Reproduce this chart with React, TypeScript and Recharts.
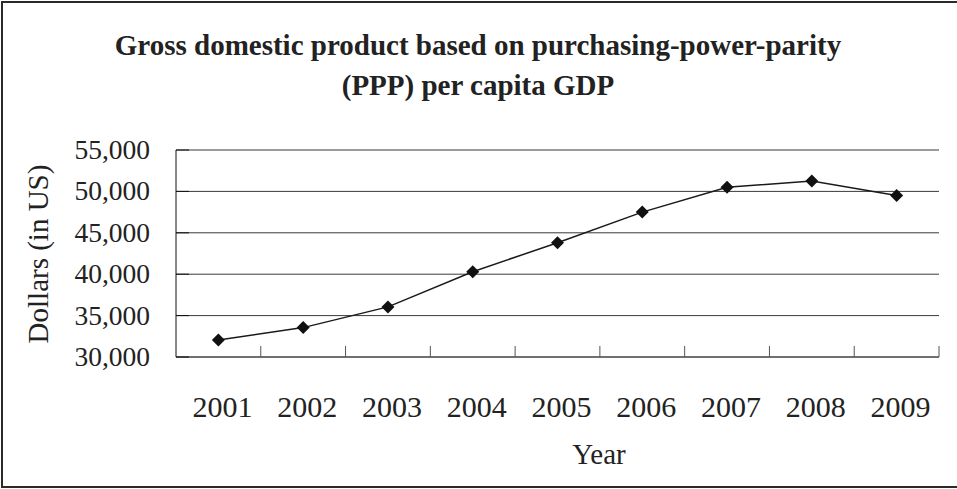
import React from "react";
import { LineChart, Line, XAxis, YAxis, CartesianGrid, ReferenceLine } from "recharts";

const years = ["2001", "2002", "2003", "2004", "2005", "2006", "2007", "2008", "2009"];
const gdpValues = [32050, 33550, 36050, 40300, 43800, 47500, 50500, 51250, 49500];
const yTicks = [30000, 35000, 40000, 45000, 50000, 55000];

const data = years.map((year, i) => ({ year, gdp: gdpValues[i] }));

const W = 957;
const H = 489;
const PLOT_LEFT = 176;
const PLOT_RIGHT = 939;
const PLOT_TOP = 150;
const PLOT_BOTTOM = 357;
const BAND = (PLOT_RIGHT - PLOT_LEFT) / years.length;
const FONT = "'Liberation Serif', 'Times New Roman', serif";
const INK = "#222";

// diamond marker like the old Excel style
const Diamond = (props: any) => {
  const { cx, cy } = props;
  if (cx == null || cy == null) return null;
  const r = 6.5;
  return (
    <polygon
      points={`${cx},${cy - r} ${cx + r},${cy} ${cx},${cy + r} ${cx - r},${cy}`}
      fill="#111"
    />
  );
};

const XTick = (props: any) => {
  const { x, payload } = props;
  // ticks sit on the band boundaries and point up into the plot
  const tx = x + BAND / 2;
  return (
    <g>
      <line x1={tx} x2={tx} y1={PLOT_BOTTOM} y2={PLOT_BOTTOM - 11} stroke="#555" />
      <text x={x + 4} y={PLOT_BOTTOM + 60} textAnchor="middle" fontFamily={FONT} fontSize={30} fill={INK}>
        {payload.value}
      </text>
    </g>
  );
};

const YTick = (props: any) => {
  const { y, payload } = props;
  return (
    <g>
      <line x1={PLOT_LEFT} x2={PLOT_LEFT + 13} y1={y} y2={y} stroke="#111" />
      <text x={150} y={y + 9} textAnchor="end" fontFamily={FONT} fontSize={27.5} fill={INK}>
        {Number(payload.value).toLocaleString("en-US")}
      </text>
    </g>
  );
};

const YLabel = () => (
  <text
    x={38}
    y={254}
    transform="rotate(-90 38 254)"
    textAnchor="middle"
    dominantBaseline="central"
    fontFamily={FONT}
    fontSize={29}
    fill={INK}
  >
    Dollars (in US)
  </text>
);

const App = () => {
  return (
    <div style={{ position: "relative", width: W, height: H, overflow: "hidden", background: "#fff" }}>
      <style>{"body{margin:0}"}</style>
      <LineChart
        width={W}
        height={H}
        data={data}
        margin={{ top: PLOT_TOP, right: W - PLOT_RIGHT, bottom: 0, left: 0 }}
      >
        <CartesianGrid vertical={false} stroke="#3a3a3a" />
        <XAxis
          dataKey="year"
          height={H - PLOT_BOTTOM}
          interval={0}
          padding={{ left: BAND / 2, right: BAND / 2 }}
          axisLine={{ stroke: "#444" }}
          tickLine={false}
          tick={XTick}
        />
        <YAxis
          width={PLOT_LEFT}
          domain={[30000, 55000]}
          ticks={yTicks}
          axisLine={{ stroke: "#111" }}
          tickLine={false}
          tick={YTick}
          label={<YLabel />}
        />
        <YAxis
          yAxisId="right"
          orientation="right"
          width={0}
          domain={[30000, 55000]}
          tick={false}
          tickLine={false}
          axisLine={{ stroke: "#999" }}
        />
        <ReferenceLine y={55000} stroke="#999" />
        <Line
          type="linear"
          dataKey="gdp"
          stroke="#1a1a1a"
          strokeWidth={1.5}
          dot={<Diamond />}
          activeDot={false}
          isAnimationActive={false}
        />
      </LineChart>
      <svg width={W} height={H} style={{ position: "absolute", left: 0, top: 0, pointerEvents: "none" }}>
        <text x={478} y={55} textAnchor="middle" fontFamily={FONT} fontWeight="bold" fontSize={29} fill={INK}>
          Gross domestic product based on purchasing-power-parity
        </text>
        <text x={478} y={95} textAnchor="middle" fontFamily={FONT} fontWeight="bold" fontSize={29} fill={INK}>
          (PPP) per capita GDP
        </text>
        <text x={599} y={464} textAnchor="middle" fontFamily={FONT} fontSize={29} fill={INK}>
          Year
        </text>
      </svg>
      <div
        style={{
          position: "absolute",
          left: 1,
          top: 1,
          width: W + 10,
          height: 487,
          boxSizing: "border-box",
          border: "2px solid #2a2a2a",
          pointerEvents: "none",
        }}
      />
    </div>
  );
};

export default App;
